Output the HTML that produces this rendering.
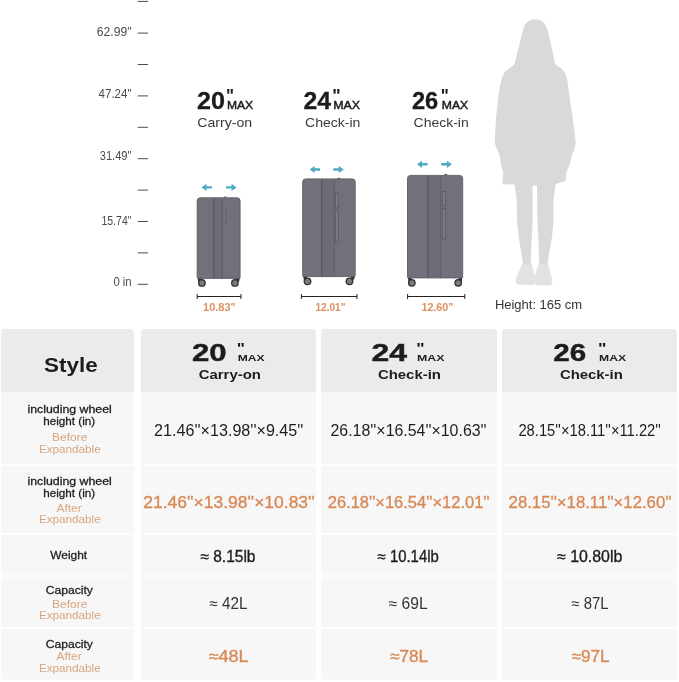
<!DOCTYPE html>
<html lang="en">
<head>
<meta charset="utf-8">
<title>Luggage size chart</title>
<style>
html,body{margin:0;padding:0;background:#fff;}
body{width:679px;height:682px;position:relative;overflow:hidden;font-family:"Liberation Sans",sans-serif;color:#222;}
svg text{font-family:"Liberation Sans",sans-serif;}
#art{position:absolute;left:0;top:0;width:679px;height:329px;}
.col{position:absolute;top:329px;height:351.2px;background:#f7f7f7;border-radius:4px 4px 3px 3px;overflow:hidden;}
.col .hd{position:absolute;left:0;right:0;top:0;height:62.6px;background:#ebebeb;}
.col .ln{position:absolute;left:0;right:0;height:1.6px;background:#fdfdfd;}
#tabtext{position:absolute;left:0;top:329px;width:679px;height:353px;}
</style>
</head>
<body>
<svg id="art" viewBox="0 0 679 329" width="679" height="329">
  <!-- ruler ticks -->
  <g stroke="#4c4c4c" stroke-width="1">
    <line x1="137.7" x2="148" y1="1.4" y2="1.4"/>
    <line x1="137.7" x2="148" y1="33.1" y2="33.1"/>
    <line x1="137.7" x2="148" y1="64.5" y2="64.5"/>
    <line x1="137.7" x2="148" y1="95.9" y2="95.9"/>
    <line x1="137.7" x2="148" y1="127.3" y2="127.3"/>
    <line x1="137.7" x2="148" y1="158.7" y2="158.7"/>
    <line x1="137.7" x2="148" y1="190.1" y2="190.1"/>
    <line x1="137.7" x2="148" y1="221.5" y2="221.5"/>
    <line x1="137.7" x2="148" y1="252.9" y2="252.9"/>
    <line x1="137.7" x2="148" y1="284.3" y2="284.3"/>
  </g>

  <!-- suitcase 20 -->
  <g>
    <path d="M197.4 277 h4 v3 l-3 2z M240 277 h-4 v3 l3 2z" fill="#2e2e33"/>
    <circle cx="201.9" cy="282.9" r="3.9" fill="#2e2e33"/><circle cx="201.9" cy="282.9" r="2.6" fill="#7a7a82"/>
    <circle cx="234.9" cy="282.9" r="3.9" fill="#2e2e33"/><circle cx="234.9" cy="282.9" r="2.6" fill="#7a7a82"/>
    <path d="M197.2 277.6 V200.8 a3 3 0 0 1 3 -3 H237.1 a3 3 0 0 1 3 3 V277.6 a0.8 0.8 0 0 1 -0.8 0.8 H198 a0.8 0.8 0 0 1 -0.8 -0.8z" fill="#71717b" stroke="#5c5c66" stroke-width="0.9"/>
    <rect x="213.4" y="198" width="9" height="80.6" fill="#6c6c76"/>
    <path d="M213.7 198 V278.6" stroke="#54545e" stroke-width="1.1"/>
    <path d="M222.3 198 V278.6" stroke="#5a5a64" stroke-width="0.7"/>
    <rect x="222.9" y="208.1" width="2.9" height="15.2" fill="#787882" stroke="#585862" stroke-width="0.7"/>
    <path d="M223.6 197.5 l0.8 -0.9 h1.6 l0.8 0.9z" fill="#5a555c"/>
  </g>
  <!-- suitcase 24 -->
  <g>
    <path d="M302.9 275 h4 v3 l-3 2z M355 275 h-4 v3 l3 2z" fill="#2e2e33"/>
    <circle cx="307.5" cy="281.3" r="3.9" fill="#2e2e33"/><circle cx="307.5" cy="281.3" r="2.6" fill="#7a7a82"/>
    <circle cx="349.5" cy="281.3" r="3.9" fill="#2e2e33"/><circle cx="349.5" cy="281.3" r="2.6" fill="#7a7a82"/>
    <path d="M302.7 275.8 V181.9 a3 3 0 0 1 3 -3 H352.2 a3 3 0 0 1 3 3 V275.8 a0.8 0.8 0 0 1 -0.8 0.8 H303.5 a0.8 0.8 0 0 1 -0.8 -0.8z" fill="#71717b" stroke="#5c5c66" stroke-width="0.9"/>
    <rect x="321.5" y="179.1" width="13" height="97.7" fill="#6c6c76"/>
    <path d="M321.7 179.1 V276.8" stroke="#54545e" stroke-width="1.1"/>
    <path d="M334.4 179.1 V276.8" stroke="#5a5a64" stroke-width="0.7"/>
    <rect x="335.3" y="193" width="3.2" height="14.8" fill="#787882" stroke="#585862" stroke-width="0.7"/>
    <rect x="335.3" y="210" width="3.2" height="32.2" fill="#787882" stroke="#585862" stroke-width="0.7"/>
    <path d="M337 178.7 l0.8 -0.9 h2 l0.8 0.9z" fill="#5a555c"/>
  </g>
  <!-- suitcase 26 -->
  <g>
    <path d="M407.6 276.4 h4 v3 l-3 2z M462.6 276.4 h-4 v3 l3 2z" fill="#2e2e33"/>
    <circle cx="411.8" cy="282.8" r="3.9" fill="#2e2e33"/><circle cx="411.8" cy="282.8" r="2.6" fill="#7a7a82"/>
    <circle cx="458.2" cy="282.8" r="3.9" fill="#2e2e33"/><circle cx="458.2" cy="282.8" r="2.6" fill="#7a7a82"/>
    <path d="M407.5 277.1 V178.4 a3 3 0 0 1 3 -3 H459.7 a3 3 0 0 1 3 3 V277.1 a0.8 0.8 0 0 1 -0.8 0.8 H408.3 a0.8 0.8 0 0 1 -0.8 -0.8z" fill="#71717b" stroke="#5c5c66" stroke-width="0.9"/>
    <rect x="427.8" y="175.6" width="13" height="102.5" fill="#6c6c76"/>
    <path d="M428 175.6 V278.1" stroke="#54545e" stroke-width="1.1"/>
    <path d="M440.7 175.6 V278.1" stroke="#5a5a64" stroke-width="0.7"/>
    <rect x="442.2" y="191.4" width="3.5" height="14.4" fill="#787882" stroke="#585862" stroke-width="0.7"/>
    <rect x="442.2" y="208.4" width="3.5" height="30.6" fill="#787882" stroke="#585862" stroke-width="0.7"/>
    <path d="M444 175 l0.8 -0.9 h2 l0.8 0.9z" fill="#5a555c"/>
  </g>

  <!-- arrows -->
  <g fill="#4eabc2">
    <path d="M201.5 187.4 l5 -3.6 v2.4 h5.4 v2.4 h-5.4 v2.4z"/>
    <path d="M236.5 187.4 l-5 -3.6 v2.4 h-5.4 v2.4 h5.4 v2.4z"/>
    <path d="M309.6 169.5 l5 -3.6 v2.4 h5.4 v2.4 h-5.4 v2.4z"/>
    <path d="M343.7 169.5 l-5 -3.6 v2.4 h-5.4 v2.4 h5.4 v2.4z"/>
    <path d="M417 164.3 l5 -3.6 v2.4 h5.6 v2.4 h-5.6 v2.4z"/>
    <path d="M451.9 164.3 l-5 -3.6 v2.4 h-5.6 v2.4 h5.6 v2.4z"/>
  </g>

  <!-- width dimension lines -->
  <g stroke="#222" stroke-width="1" fill="none">
    <path d="M197.2 296.5 H241 M197.2 294 v5 M241 294 v5"/>
    <path d="M301.4 296.5 H357 M301.4 294 v5 M357 294 v5"/>
    <path d="M407.6 296.5 H464.8 M407.6 294 v5 M464.8 294 v5"/>
  </g>

  <!-- person silhouette -->
  <g>
    <path fill="#e2e2e2" d="M522.5 263.6 L516 278 Q514.4 284.6 519 284.7 L534 284.9 Q535.8 282 535 276 L531.2 263.6z"/>
    <path fill="#e2e2e2" d="M538.8 263.6 L534.8 276 Q534.4 284 536 285.2 L550 285.5 Q553.6 284 551.8 278 L547.8 263.6z"/>
    <path fill="#d9d9d9" d="M535.1 19.2 C528 19.2 524.5 24 523 30 C521 38 519 46 517.5 52 L514.7 63.5 C512.5 66.5 511 67.5 509 68.5 C505.5 70.5 503.5 73.5 502 78 C500 85 499 90 498.5 95 L496 118 L494.9 138 C494.8 142 495 144 495.6 145.5 C496.5 148.5 498.5 152 499.4 154.3 C500.2 157 500.4 161 500.8 164.6 C501.2 167 502.6 169.5 503.3 172.7 L502.7 178.6 L502.4 184.3 L514.5 184.6 L516.7 200 L517.1 222 L518.6 236.8 L521.1 251.5 L523 264 L530.7 264.5 L531 251.5 L531.8 236.8 L532.7 222 L532.5 185.6 L537 185.6 L537.4 222 L538.3 236.8 L538.8 251.5 L539.2 264 L547.6 264 L549.5 251.5 L552 236.8 L553.5 222 L553.5 200 L555.7 184 L565.7 181.1 L566 174.2 C566.5 171 568.5 168 569.2 166.1 C570.5 162 571 158.5 571.9 155 C572.8 152.5 574 151 574.6 148.5 C575.4 146 575.7 144 575.6 141 L572.6 117 L569 94 C568.5 88 568 83 566.7 77.5 C565.5 73 563.5 70 561 68.3 C558.5 67 556.5 65.5 555 63.5 L551.5 47 C550 40 548.5 33 546.8 28.1 C545 23 541.5 19.2 535.1 19.2z"/>
  </g>

  <g>
    <text transform="translate(96.70 35.60) scale(1.0168 1.0000)" font-size="12" fill="#4a4a4a">62.99"</text>
    <text transform="translate(98.60 97.50) scale(0.9609 1.0000)" font-size="12" fill="#4a4a4a">47.24"</text>
    <text transform="translate(99.70 160.10) scale(0.9286 1.0000)" font-size="12" fill="#4a4a4a">31.49"</text>
    <text transform="translate(101.40 224.50) scale(0.8858 1.0000)" font-size="11.9" fill="#4a4a4a">15.74"</text>
    <text transform="translate(113.40 285.70) scale(0.9484 1.0000)" font-size="11.9" fill="#4a4a4a">0 in</text>
    <text transform="translate(196.90 108.50) scale(1.0681 1.0000)" font-size="23.6" fill="#1c1c1c" font-weight="bold" stroke="#1c1c1c" stroke-width="0.3">20</text>
    <text transform="translate(226.06 101.80) scale(0.9429 1.0000)" font-size="18" fill="#1c1c1c" font-weight="bold">"</text>
    <text transform="translate(227.00 108.50) scale(1.1516 1.0000)" font-size="10.5" fill="#1c1c1c" stroke="#1c1c1c" stroke-width="0.45">MAX</text>
    <text transform="translate(303.60 108.50) scale(1.0489 1.0000)" font-size="23.6" fill="#1c1c1c" font-weight="bold" stroke="#1c1c1c" stroke-width="0.3">24</text>
    <text transform="translate(332.21 101.80) scale(0.9857 1.0000)" font-size="18" fill="#1c1c1c" font-weight="bold">"</text>
    <text transform="translate(333.20 108.50) scale(1.1780 1.0000)" font-size="10.5" fill="#1c1c1c" stroke="#1c1c1c" stroke-width="0.45">MAX</text>
    <text transform="translate(411.90 108.50) scale(1.0030 1.0000)" font-size="23.6" fill="#1c1c1c" font-weight="bold" stroke="#1c1c1c" stroke-width="0.3">26</text>
    <text transform="translate(440.86 101.80) scale(0.9429 1.0000)" font-size="18" fill="#1c1c1c" font-weight="bold">"</text>
    <text transform="translate(441.80 108.50) scale(1.1604 1.0000)" font-size="10.5" fill="#1c1c1c" stroke="#1c1c1c" stroke-width="0.45">MAX</text>
    <text transform="translate(197.20 127.20) scale(1.0887 1.0000)" font-size="13" fill="#3a3a3a">Carry-on</text>
    <text transform="translate(305.00 127.20) scale(1.0810 1.0000)" font-size="13" fill="#3a3a3a">Check-in</text>
    <text transform="translate(413.60 127.20) scale(1.0751 1.0000)" font-size="13" fill="#3a3a3a">Check-in</text>
    <text transform="translate(203.10 310.50) scale(0.9467 1.0000)" font-size="11.6" fill="#da9162" font-weight="bold">10.83"</text>
    <text transform="translate(315.40 310.50) scale(0.8732 1.0000)" font-size="11.6" fill="#da9162" font-weight="bold">12.01"</text>
    <text transform="translate(421.40 310.50) scale(0.9291 1.0000)" font-size="11.6" fill="#da9162" font-weight="bold">12.60"</text>
    <text transform="translate(494.88 309.20) scale(1.0153 1.0000)" font-size="12.8" fill="#333">Height: 165 cm</text>
  </g>
</svg>

<!-- comparison table backgrounds -->
<div class="col" style="left:1.2px;width:133px;">
  <div class="hd"></div>
  <div class="ln" style="top:135.3px"></div>
  <div class="ln" style="top:204px"></div>
  <div class="ln" style="top:246px"></div>
  <div class="ln" style="top:298.4px"></div>
</div>
<div class="col" style="left:140.8px;width:175.4px;">
  <div class="hd"></div>
  <div class="ln" style="top:135.3px"></div>
  <div class="ln" style="top:204px"></div>
  <div class="ln" style="top:246px"></div>
  <div class="ln" style="top:298.4px"></div>
</div>
<div class="col" style="left:321.4px;width:175.2px;">
  <div class="hd"></div>
  <div class="ln" style="top:135.3px"></div>
  <div class="ln" style="top:204px"></div>
  <div class="ln" style="top:246px"></div>
  <div class="ln" style="top:298.4px"></div>
</div>
<div class="col" style="left:502.4px;width:175px;">
  <div class="hd"></div>
  <div class="ln" style="top:135.3px"></div>
  <div class="ln" style="top:204px"></div>
  <div class="ln" style="top:246px"></div>
  <div class="ln" style="top:298.4px"></div>
</div>

<!-- comparison table text -->
<svg id="tabtext" viewBox="0 0 679 353" width="679" height="353">
    <text transform="translate(44.10 42.50) scale(1.1221 1.0000)" font-size="20" fill="#1c1c1c" font-weight="bold">Style</text>
    <text transform="translate(27.40 84.20) scale(1.0745 1.0000)" font-size="11.5" fill="#1e1e1e" stroke="#1e1e1e" stroke-width="0.3">including wheel</text>
    <text transform="translate(43.30 96.00) scale(1.0154 1.0000)" font-size="11.5" fill="#1e1e1e" stroke="#1e1e1e" stroke-width="0.3">height (in)</text>
    <text transform="translate(52.10 112.20) scale(1.0353 1.0000)" font-size="11.6" fill="#d9a57e">Before</text>
    <text transform="translate(38.90 123.50) scale(1.0100 1.0000)" font-size="11.6" fill="#d9a57e">Expandable</text>
    <text transform="translate(27.40 156.00) scale(1.0745 1.0000)" font-size="11.5" fill="#1e1e1e" stroke="#1e1e1e" stroke-width="0.3">including wheel</text>
    <text transform="translate(43.30 167.90) scale(1.0154 1.0000)" font-size="11.5" fill="#1e1e1e" stroke="#1e1e1e" stroke-width="0.3">height (in)</text>
    <text transform="translate(56.50 183.40) scale(1.0316 1.0000)" font-size="11.6" fill="#d9a57e">After</text>
    <text transform="translate(38.90 194.40) scale(1.0100 1.0000)" font-size="11.6" fill="#d9a57e">Expandable</text>
    <text transform="translate(50.20 229.80) scale(1.0388 1.0000)" font-size="11.5" fill="#1e1e1e" stroke="#1e1e1e" stroke-width="0.3">Weight</text>
    <text transform="translate(45.80 265.20) scale(1.0535 1.0000)" font-size="11.5" fill="#1e1e1e" stroke="#1e1e1e" stroke-width="0.3">Capacity</text>
    <text transform="translate(52.10 278.50) scale(1.0353 1.0000)" font-size="11.6" fill="#d9a57e">Before</text>
    <text transform="translate(38.90 289.90) scale(1.0100 1.0000)" font-size="11.6" fill="#d9a57e">Expandable</text>
    <text transform="translate(45.80 318.70) scale(1.0535 1.0000)" font-size="11.5" fill="#1e1e1e" stroke="#1e1e1e" stroke-width="0.3">Capacity</text>
    <text transform="translate(56.50 331.20) scale(1.0316 1.0000)" font-size="11.6" fill="#d9a57e">After</text>
    <text transform="translate(38.90 342.50) scale(1.0100 1.0000)" font-size="11.6" fill="#d9a57e">Expandable</text>
    <text transform="translate(191.90 31.90) scale(1.3207 1.0000)" font-size="23.6" fill="#1c1c1c" font-weight="bold" stroke="#1c1c1c" stroke-width="0.4">20</text>
    <text transform="translate(236.72 23.92) scale(1.0833 0.8600)" font-size="16" fill="#1c1c1c" font-weight="bold">"</text>
    <text transform="translate(237.80 32.00) scale(1.3153 1.0000)" font-size="9.2" fill="#1c1c1c" font-weight="bold">MAX</text>
    <text transform="translate(198.70 50.20) scale(1.1329 1.0000)" font-size="13.2" fill="#1c1c1c" font-weight="bold">Carry-on</text>
    <text transform="translate(371.40 31.90) scale(1.3552 1.0000)" font-size="23.6" fill="#1c1c1c" font-weight="bold" stroke="#1c1c1c" stroke-width="0.4">24</text>
    <text transform="translate(416.30 23.92) scale(1.1000 0.8600)" font-size="16" fill="#1c1c1c" font-weight="bold">"</text>
    <text transform="translate(417.00 32.00) scale(1.3435 1.0000)" font-size="9.2" fill="#1c1c1c" font-weight="bold">MAX</text>
    <text transform="translate(377.90 50.20) scale(1.1323 1.0000)" font-size="13.2" fill="#1c1c1c" font-weight="bold">Check-in</text>
    <text transform="translate(553.30 31.90) scale(1.2557 1.0000)" font-size="23.6" fill="#1c1c1c" font-weight="bold" stroke="#1c1c1c" stroke-width="0.4">26</text>
    <text transform="translate(597.88 23.92) scale(1.1167 0.8600)" font-size="16" fill="#1c1c1c" font-weight="bold">"</text>
    <text transform="translate(599.00 32.00) scale(1.3247 1.0000)" font-size="9.2" fill="#1c1c1c" font-weight="bold">MAX</text>
    <text transform="translate(559.90 50.20) scale(1.1287 1.0000)" font-size="13.2" fill="#1c1c1c" font-weight="bold">Check-in</text>
    <text transform="translate(154.10 106.70) scale(1.0209 1.0000)" font-size="15.8" fill="#1e1e1e">21.46''×13.98''×9.45''</text>
    <text transform="translate(330.50 106.80) scale(1.0069 1.0000)" font-size="15.8" fill="#1e1e1e">26.18''×16.54''×10.63''</text>
    <text transform="translate(518.40 106.80) scale(0.9340 1.0000)" font-size="15.8" fill="#1e1e1e">28.15''×18.11''×11.22''</text>
    <text transform="translate(143.20 178.80) scale(1.0535 1.0000)" font-size="16.6" fill="#d88a57" stroke="#d88a57" stroke-width="0.35">21.46''×13.98''×10.83''</text>
    <text transform="translate(327.80 178.70) scale(0.9933 1.0000)" font-size="16.6" fill="#d88a57" stroke="#d88a57" stroke-width="0.35">26.18''×16.54''×12.01''</text>
    <text transform="translate(508.60 178.70) scale(1.0077 1.0000)" font-size="16.6" fill="#d88a57" stroke="#d88a57" stroke-width="0.35">28.15''×18.11''×12.60''</text>
    <text transform="translate(200.40 233.30) scale(0.9945 1.0000)" font-size="15.6" fill="#1e1e1e" stroke="#1e1e1e" stroke-width="0.35">≈ 8.15lb</text>
    <text transform="translate(377.60 233.20) scale(0.9553 1.0000)" font-size="15.6" fill="#1e1e1e" stroke="#1e1e1e" stroke-width="0.35">≈ 10.14lb</text>
    <text transform="translate(557.00 233.20) scale(1.0205 1.0000)" font-size="15.6" fill="#1e1e1e" stroke="#1e1e1e" stroke-width="0.35">≈ 10.80lb</text>
    <text transform="translate(209.50 280.40) scale(0.9664 1.0000)" font-size="15.8" fill="#333">≈ 42L</text>
    <text transform="translate(388.70 280.20) scale(0.9892 1.0000)" font-size="15.8" fill="#333">≈ 69L</text>
    <text transform="translate(571.50 280.20) scale(0.9412 1.0000)" font-size="15.8" fill="#333">≈ 87L</text>
    <text transform="translate(208.60 333.40) scale(1.0885 1.0000)" font-size="16.6" fill="#d88a57" stroke="#d88a57" stroke-width="0.35">≈48L</text>
    <text transform="translate(390.10 333.30) scale(1.0338 1.0000)" font-size="16.6" fill="#d88a57" stroke="#d88a57" stroke-width="0.35">≈78L</text>
    <text transform="translate(571.50 333.30) scale(1.0338 1.0000)" font-size="16.6" fill="#d88a57" stroke="#d88a57" stroke-width="0.35">≈97L</text>
</svg>
</body>
</html>
